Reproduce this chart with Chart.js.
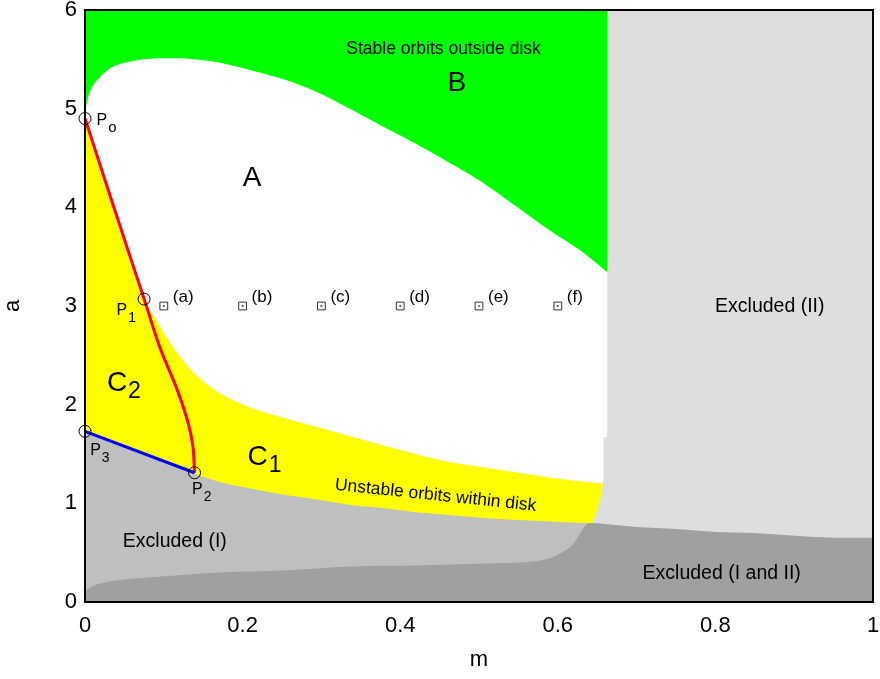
<!DOCTYPE html>
<html>
<head>
<meta charset="utf-8">
<script src="https://cdn.jsdelivr.net/npm/chart.js@4.4.1/dist/chart.umd.min.js"></script>
<style>
  html, body { margin: 0; padding: 0; background: #fff; }
</style>
</head>
<body>
<canvas id="chart" width="880" height="679"></canvas>
<script>
const FONT = '"Liberation Sans", Arial, sans-serif';

const xTicks = [0, 0.2, 0.4, 0.6, 0.8, 1];
const yTicks = [0, 1, 2, 3, 4, 5, 6];

// region B (green), top of the plot
const greenM = [0, 0.663];
const greenA = [6, 6];

// upper edge of region A (white / green border)
const upperM = [0, 0.003, 0.006, 0.019, 0.032, 0.053, 0.075, 0.095, 0.12, 0.137, 0.16, 0.18, 0.215, 0.251, 0.294, 0.336, 0.378, 0.421, 0.463, 0.505, 0.547, 0.589, 0.631, 0.663];
const upperA = [4.95, 5.09, 5.17, 5.32, 5.41, 5.47, 5.50, 5.51, 5.51, 5.50, 5.48, 5.45, 5.38, 5.30, 5.17, 5.00, 4.82, 4.64, 4.45, 4.25, 4.01, 3.77, 3.55, 3.34];

// lower edge of region A (white / yellow border)
const midM = [0, 0.037, 0.075, 0.085, 0.105, 0.127, 0.148, 0.17, 0.21, 0.25, 0.30, 0.35, 0.40, 0.45, 0.50, 0.55, 0.60, 0.655, 0.663];
const midA = [4.9, 3.99, 3.07, 2.93, 2.66, 2.42, 2.25, 2.12, 1.97, 1.87, 1.76, 1.65, 1.54, 1.44, 1.37, 1.31, 1.25, 1.20, 1.19];

// Excluded (II) edge
const edgeM = [0.644, 0.650, 0.655, 0.658, 0.658, 0.663, 0.663, 1];
const edgeA = [0.80, 0.93, 1.08, 1.25, 1.67, 1.67, 6, 6];

// Excluded (I) top (yellow / grey border)
const lowM = [0, 0.139, 0.17, 0.21, 0.25, 0.295, 0.34, 0.38, 0.42, 0.465, 0.51, 0.55, 0.59, 0.634, 0.644];
const lowA = [1.73, 1.30, 1.22, 1.15, 1.09, 1.04, 0.98, 0.95, 0.91, 0.88, 0.85, 0.83, 0.815, 0.80, 0.80];

// Excluded (I and II) top
const baseM = [0, 0.005, 0.021, 0.042, 0.085, 0.169, 0.253, 0.338, 0.422, 0.507, 0.57, 0.60, 0.621, 0.631, 0.64, 0.66, 0.70, 0.75, 0.80, 0.85, 0.906, 0.966, 1];
const baseA = [0.10, 0.14, 0.19, 0.22, 0.25, 0.30, 0.32, 0.36, 0.37, 0.39, 0.41, 0.48, 0.60, 0.73, 0.80, 0.79, 0.76, 0.74, 0.71, 0.70, 0.67, 0.65, 0.65];

// red curve P0 -> P1 -> P2, blue segment P3 -> P2
const redM = [0, 0.037, 0.075, 0.095, 0.117, 0.131, 0.137, 0.139];
const redA = [4.9, 3.99, 3.07, 2.58, 2.15, 1.81, 1.57, 1.31];
const blueM = [0, 0.139];
const blueA = [1.73, 1.31];

// special points P0, P1, P2, P3
const ptM = [0, 0.075, 0.139, 0];
const ptA = [4.9, 3.07, 1.31, 1.73];

// sample cases (a)..(f)
const caseM = [0.1, 0.2, 0.3, 0.4, 0.5, 0.6];
const caseA = [3, 3, 3, 3, 3, 3];
const caseNames = ['(a)', '(b)', '(c)', '(d)', '(e)', '(f)'];

const notes = [
  { text: 'Stable orbits outside disk', m: 0.455, a: 5.60, size: 17.5 },
  { text: 'B', m: 0.472, a: 5.255, size: 28 },
  { text: 'A', m: 0.212, a: 4.29, size: 28 },
  { text: 'C', sub: '2', m: 0.0406, a: 2.22, size: 28, subSize: 23, subDy: 9 },
  { text: 'C', sub: '1', m: 0.219, a: 1.47, size: 28, subSize: 23, subDy: 9 },
  { text: 'Excluded (II)', m: 0.869, a: 2.99, size: 19.5 },
  { text: 'Unstable orbits within disk', m: 0.445, a: 1.08, size: 17.5, rot: 6 },
  { text: 'Excluded (I)', m: 0.114, a: 0.61, size: 19.5 },
  { text: 'Excluded (I and II)', m: 0.808, a: 0.29, size: 19.5 },
  { text: 'P', sub: 'o', m: 0.0215, a: 4.88, size: 16, subSize: 15, subDy: 7 },
  { text: 'P', sub: '1', m: 0.0469, a: 2.95, size: 16, subSize: 14, subDy: 7 },
  { text: 'P', sub: '3', m: 0.0133, a: 1.53, size: 16, subSize: 14, subDy: 7 },
  { text: 'P', sub: '2', m: 0.1426, a: 1.135, size: 16, subSize: 14, subDy: 7 }
];

const pts = (ms, as) => ms.map((m, i) => ({ x: m, y: as[i] }));

function area(ms, as, color, order, smooth) {
  return {
    data: pts(ms, as), backgroundColor: color, borderColor: color, borderWidth: 0,
    pointRadius: 0, fill: 'origin', tension: 0, order,
    cubicInterpolationMode: smooth ? 'monotone' : 'default'
  };
}

const notesPlugin = {
  id: 'notes',
  afterDatasetsDraw(chart) {
    const { ctx, scales: { x, y } } = chart;
    ctx.save();
    ctx.fillStyle = '#000';
    ctx.textBaseline = 'middle';
    notes.forEach(n => {
      ctx.save();
      ctx.translate(x.getPixelForValue(n.m), y.getPixelForValue(n.a));
      if (n.rot) ctx.rotate(n.rot * Math.PI / 180);
      ctx.font = `${n.size}px ${FONT}`;
      ctx.textAlign = 'center';
      ctx.fillText(n.text, 0, 0);
      if (n.sub) {
        const w = ctx.measureText(n.text).width;
        ctx.font = `${n.subSize}px ${FONT}`;
        ctx.textAlign = 'left';
        ctx.fillText(n.sub, w / 2 + 1, n.subDy);
      }
      ctx.restore();
    });
    ctx.font = `17px ${FONT}`;
    ctx.textAlign = 'left';
    caseM.forEach((m, i) => {
      ctx.fillText(caseNames[i], x.getPixelForValue(m) + 9, y.getPixelForValue(caseA[i]) - 9);
    });
    ctx.restore();
  },
  afterDraw(chart) {
    const { ctx, chartArea: c } = chart;
    ctx.save();
    ctx.strokeStyle = '#000';
    ctx.lineWidth = 2;
    ctx.strokeRect(c.left, c.top, c.right - c.left, c.bottom - c.top);
    ctx.restore();
  }
};

new Chart(document.getElementById('chart'), {
  type: 'line',
  data: {
    datasets: [
      area(greenM, greenA, '#00ff00', 10, false),
      area(upperM, upperA, '#ffffff', 9, true),
      area(midM, midA, '#ffff00', 8, true),
      area(edgeM, edgeA, '#dedede', 7, false),
      area(lowM, lowA, '#bfbfbf', 6, true),
      area(baseM, baseA, '#a0a0a0', 5, true),
      {
        data: pts(redM, redA), borderColor: '#ff0000', borderWidth: 3, pointRadius: 0,
        fill: false, tension: 0.35, order: 4, clip: false
      },
      {
        data: pts(blueM, blueA), borderColor: '#0000ff', borderWidth: 3, pointRadius: 0,
        fill: false, tension: 0, order: 3, clip: false
      },
      {
        data: pts(ptM, ptA), showLine: false, pointStyle: 'circle', pointRadius: 6,
        pointBorderColor: '#000', pointBorderWidth: 1, pointBackgroundColor: 'rgba(0,0,0,0)',
        order: 2, clip: false
      },
      {
        data: pts(caseM, caseA), showLine: false, pointStyle: 'rect', pointRadius: 5.5,
        pointBorderColor: '#333', pointBorderWidth: 1, pointBackgroundColor: 'rgba(0,0,0,0)',
        order: 1
      },
      {
        data: pts(caseM, caseA), showLine: false, pointStyle: 'rect', pointRadius: 1.2,
        pointBorderWidth: 0, pointBackgroundColor: '#333', order: 0
      }
    ]
  },
  options: {
    responsive: false,
    animation: false,
    events: [],
    layout: { padding: { top: 10, right: 6, left: 0, bottom: 0 } },
    plugins: { legend: { display: false }, tooltip: { enabled: false } },
    scales: {
      x: {
        type: 'linear', min: 0, max: 1,
        afterBuildTicks: s => { s.ticks = xTicks.map(v => ({ value: v })); },
        ticks: { font: { family: FONT, size: 22 }, color: '#000', padding: 11, maxRotation: 0, callback: v => String(v) },
        grid: { display: false, drawTicks: false },
        border: { display: false },
        title: { display: true, text: 'm', font: { family: FONT, size: 22 }, color: '#000', padding: { top: 0, bottom: 6 } },
        afterFit: s => { s.height = 77; s.paddingLeft = 0; s.paddingRight = 0; }
      },
      y: {
        type: 'linear', min: 0, max: 6,
        afterBuildTicks: s => { s.ticks = yTicks.map(v => ({ value: v })); },
        ticks: { font: { family: FONT, size: 22 }, color: '#000', padding: 8, callback: v => String(v) },
        grid: { display: false, drawTicks: false },
        border: { display: false },
        title: { display: true, text: 'a', font: { family: FONT, size: 22 }, color: '#000', padding: { top: 0, bottom: 0 } },
        afterFit: s => { s.width = 85; s.paddingTop = 0; s.paddingBottom = 0; }
      }
    }
  },
  plugins: [notesPlugin]
});
</script>
</body>
</html>
